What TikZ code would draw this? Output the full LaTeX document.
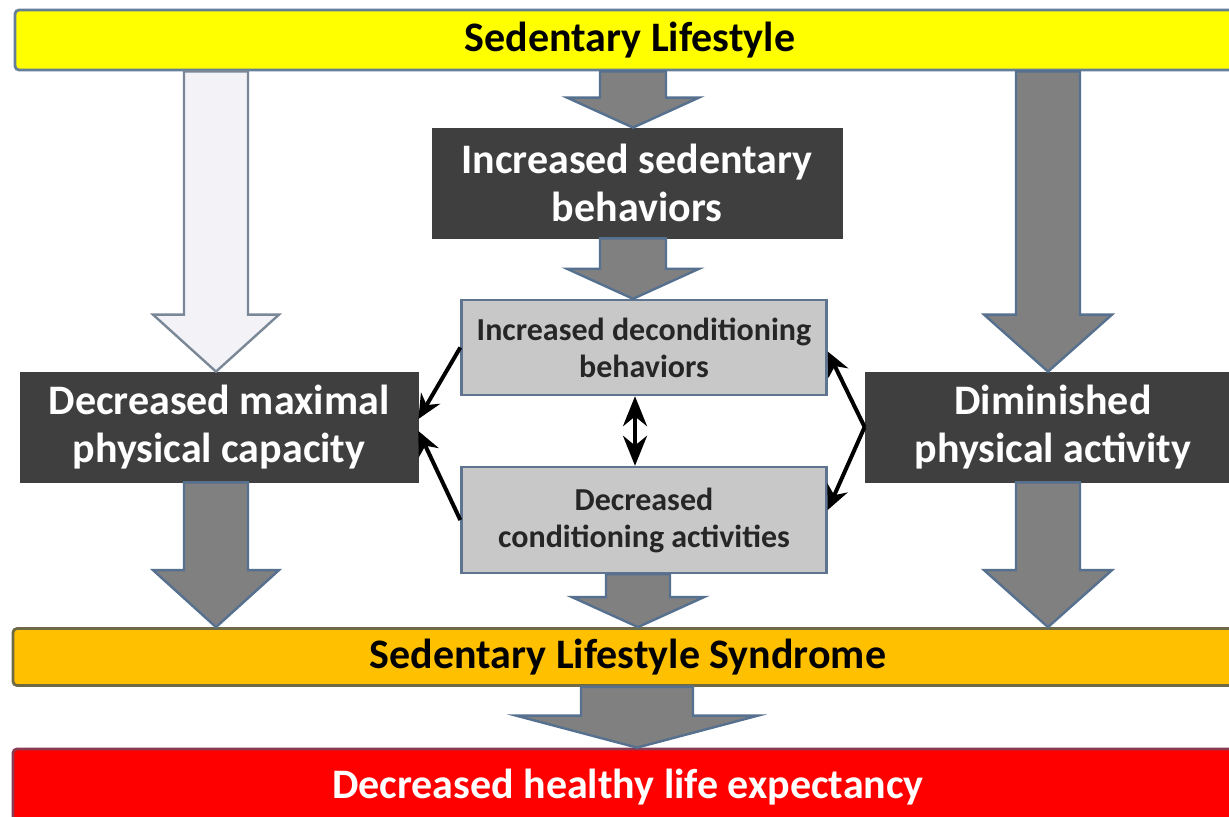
\documentclass[tikz,border=0pt]{standalone}
\usepackage{fontspec}
\setmainfont{Carlito}
\usetikzlibrary{arrows.meta,calc,positioning}
\definecolor{BarYellow}{HTML}{FFFF00}
\definecolor{BarOrange}{HTML}{FFC000}
\definecolor{BarRed}{HTML}{FF0000}
\definecolor{BarEdge}{HTML}{667F99}
\definecolor{OrangeEdge}{HTML}{6F6A45}
\definecolor{RedEdge}{HTML}{8B3A50}
\definecolor{BoxDark}{HTML}{3F3F3F}
\definecolor{BoxGrey}{HTML}{C8C8C8}
\definecolor{BoxEdge}{HTML}{5F7490}
\definecolor{FatFill}{HTML}{808080}
\definecolor{FatEdge}{HTML}{56708F}
\definecolor{FatLight}{HTML}{F2F2F7}
\definecolor{FatLightEdge}{HTML}{7A8797}
\tikzset{
  every node/.style={font=\bfseries, inner sep=0pt, align=center},
  bar/.style={draw=BarEdge, line width=1.4pt, rounded corners=2pt, minimum width=615pt, font=\bfseries\fontsize{21}{24}\selectfont},
  darkbox/.style={draw=BoxDark, fill=BoxDark, text=white, minimum height=55pt, font=\bfseries\fontsize{21}{24}\selectfont},
  greybox/.style={draw=BoxEdge, fill=BoxGrey, line width=1.2pt, text=black!85, minimum width=182.5pt, font=\bfseries\fontsize{16}{18.5}\selectfont},
  fat/.style={draw=FatEdge, fill=FatFill, line width=1.2pt, line join=miter},
  fatlight/.style={draw=FatLightEdge, fill=FatLight, line width=1.2pt, line join=miter},
  link/.style={draw=black, line width=2pt, -{Stealth[length=12pt,width=11pt]}},
  twolink/.style={draw=black, line width=2pt, {Stealth[length=15pt,width=12pt]}-{Stealth[length=15pt,width=12pt]}},
}
% block arrow: [style] x (px), from node, to node, shaft half, head half, head length (px)
\newcommand{\fatarrow}[7][fat]{%
  \path[#1] let \p1=(#3.south), \p2=(#4.north) in
    ({(#2-#5)*0.5pt},\y1) -- ({(#2-#5)*0.5pt},{\y2+#7*0.5pt})
    -- ({(#2-#6)*0.5pt},{\y2+#7*0.5pt}) -- ({#2*0.5pt},\y2)
    -- ({(#2+#6)*0.5pt},{\y2+#7*0.5pt}) -- ({(#2+#5)*0.5pt},{\y2+#7*0.5pt})
    -- ({(#2+#5)*0.5pt},\y1) -- cycle;}

\begin{document}
\begin{tikzpicture}[x=0.5pt,y=-0.5pt]
  \clip (0,0) rectangle (1229,817);
  \fill[white] (0,0) rectangle (1229,817);
  % bars
  \node[bar, fill=BarYellow, minimum height=30pt] (life) at (630,40) {Sedentary Lifestyle};
  \node[bar, fill=BarOrange, draw=OrangeEdge, minimum height=28.5pt] (syndrome) at (628,657) {Sedentary Lifestyle Syndrome};
  \node[bar, fill=BarRed, draw=RedEdge, text=white, minimum height=38pt] (expect) at (628,787) {Decreased healthy life expectancy};
  % boxes
  \node[darkbox, minimum width=205pt] (sedbeh) at (637,183) {Increased sedentary\\behaviors};
  \node[darkbox, minimum width=199pt] (maxcap) at (219,427) {Decreased maximal\\physical capacity};
  \node[darkbox, minimum width=188pt] (dimact) at (1053,427) {Diminished\\physical activity};
  \node[greybox, minimum height=47.5pt] (decond) at (644,347.5) {Increased deconditioning\\behaviors};
  \node[greybox, minimum height=53pt] (cond) at (644,520) {Decreased\\conditioning activities};
  % block arrows
  \fatarrow[fatlight]{216}{life}{maxcap}{32}{63}{57}
  \fatarrow{1048}{life}{dimact}{32}{64}{57}
  \fatarrow{633}{life}{sedbeh}{33}{66}{30}
  \fatarrow{633}{sedbeh}{decond}{33}{66}{30}
  \fatarrow{216}{maxcap}{syndrome}{32}{63}{57}
  \fatarrow{638}{cond}{syndrome}{32}{66}{30}
  \fatarrow{1048}{dimact}{syndrome}{32}{64}{57}
  \fatarrow{637}{syndrome}{expect}{56}{121}{32}
  % links
  \draw[link] (decond.west) -- ([yshift=4pt]maxcap.east);
  \draw[link] (cond.west) -- ([yshift=-2pt]maxcap.east);
  \draw[link] (dimact.west) -- ([yshift=-2pt]decond.east);
  \draw[link] (dimact.west) -- ([yshift=5pt]cond.east);
  \draw[twolink] ([xshift=-4.5pt]decond.south) -- ([xshift=-4.5pt]cond.north);
\end{tikzpicture}
\end{document}
